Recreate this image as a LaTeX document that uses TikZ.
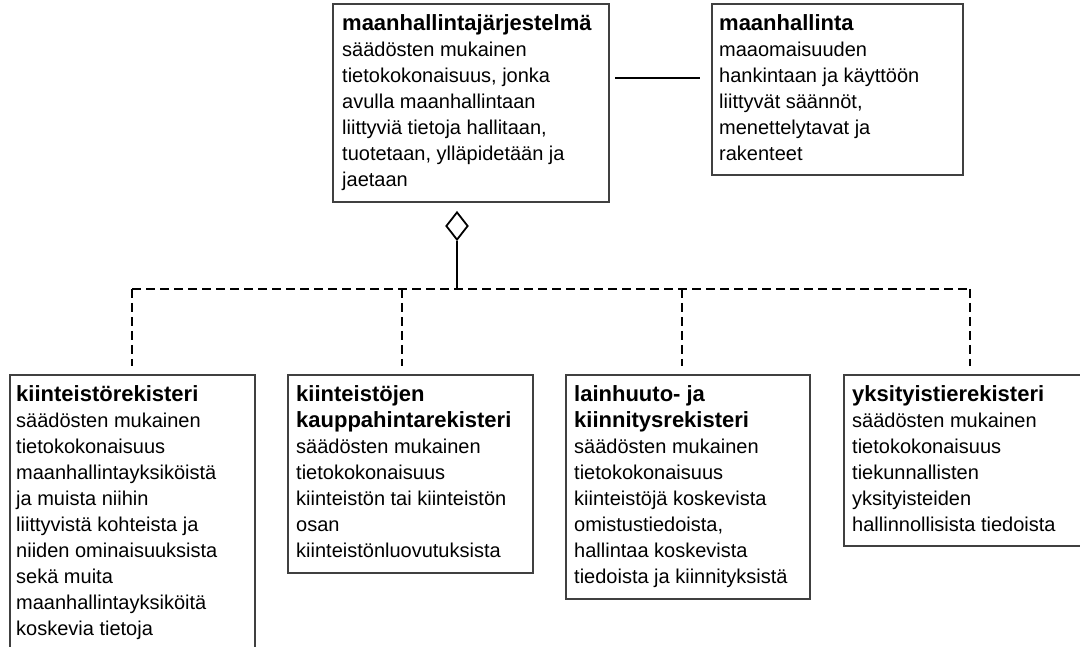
\documentclass[tikz,border=0pt]{standalone}
\usepackage{fontspec}
\setmainfont{Liberation Sans}
\usetikzlibrary{shapes.geometric}

\newcommand\headfont{\fontsize{22}{26}\selectfont\bfseries}
\newcommand\bodyfont{\fontsize{20}{26}\selectfont}

\tikzset{
  unitframe/.style={draw=black!75, line width=1.8pt, fill=white, inner sep=0pt, anchor=north west},
  blurb/.style={anchor=north west, inner sep=0pt, align=left, font=\bodyfont},
  link/.style={line width=1.8pt},
  partof/.style={line width=1.8pt, dash pattern=on 9pt off 5pt},
}

\begin{document}
\begin{tikzpicture}[x=1pt,y=-1pt]
\useasboundingbox (0,0) rectangle (1080,647);
\clip (0,0) rectangle (1080,647);

% upper row
\node[unitframe, minimum width=276pt, minimum height=198pt] (jarj) at (332,3) {};
\node[blurb] (jarjtxt) at ([shift={(10pt,-11pt)}]jarj.north west)
  {{\headfont maanhallintajärjestelmä}\\
   säädösten mukainen\\
   tietokokonaisuus, jonka\\
   avulla maanhallintaan\\
   liittyviä tietoja hallitaan,\\
   tuotetaan, ylläpidetään ja\\
   jaetaan};

\node[unitframe, minimum width=251pt, minimum height=171pt] (maan) at (711,3) {};
\node[blurb] (maantxt) at ([shift={(8pt,-11pt)}]maan.north west)
  {{\headfont maanhallinta}\\
   maaomaisuuden\\
   hankintaan ja käyttöön\\
   liittyvät säännöt,\\
   menettelytavat ja\\
   rakenteet};

\coordinate (assocL) at (615,78);
\coordinate (assocR) at (700,78);
\draw[link] (assocL) -- (assocR);

% lower row
\node[unitframe, minimum width=245pt, minimum height=300pt] (reg1) at (9,374) {};
\node[blurb] (reg1txt) at ([shift={(7pt,-11pt)}]reg1.north west)
  {{\headfont kiinteistörekisteri}\\
   säädösten mukainen\\
   tietokokonaisuus\\
   maanhallintayksiköistä\\
   ja muista niihin\\
   liittyvistä kohteista ja\\
   niiden ominaisuuksista\\
   sekä muita\\
   maanhallintayksiköitä\\
   koskevia tietoja};

\node[unitframe, minimum width=245pt, minimum height=198pt] (reg2) at (287,374) {};
\node[blurb] (reg2txt) at ([shift={(9pt,-11pt)}]reg2.north west)
  {{\headfont kiinteistöjen}\\
   {\headfont kauppahintarekisteri}\\
   säädösten mukainen\\
   tietokokonaisuus\\
   kiinteistön tai kiinteistön\\
   osan\\
   kiinteistönluovutuksista};

\node[unitframe, minimum width=244pt, minimum height=224pt] (reg3) at (565,374) {};
\node[blurb] (reg3txt) at ([shift={(9pt,-11pt)}]reg3.north west)
  {{\headfont lainhuuto- ja}\\
   {\headfont kiinnitysrekisteri}\\
   säädösten mukainen\\
   tietokokonaisuus\\
   kiinteistöjä koskevista\\
   omistustiedoista,\\
   hallintaa koskevista\\
   tiedoista ja kiinnityksistä};

\node[unitframe, minimum width=260pt, minimum height=171pt] (reg4) at (843,374) {};
\node[blurb] (reg4txt) at ([shift={(9pt,-11pt)}]reg4.north west)
  {{\headfont yksityistierekisteri}\\
   säädösten mukainen\\
   tietokokonaisuus\\
   tiekunnallisten\\
   yksityisteiden\\
   hallinnollisista tiedoista};

% aggregation
\node[diamond, draw, line width=1.8pt, inner sep=0pt, aspect=0.79,
      minimum width=22pt, minimum height=28pt] (agg) at (457,226) {};
\coordinate (hub) at (457,289);
\draw[link] (agg.south) -- (hub);

\coordinate (drop1) at (132,289);
\coordinate (drop2) at (402,289);
\coordinate (drop3) at (682,289);
\coordinate (drop4) at (970,289);
\draw[partof] (drop1) -- (drop4);
\foreach \i in {1,...,4}
  \draw[partof, shorten >=8pt] (drop\i) -- (drop\i |- reg\i.north);

\end{tikzpicture}
\end{document}
